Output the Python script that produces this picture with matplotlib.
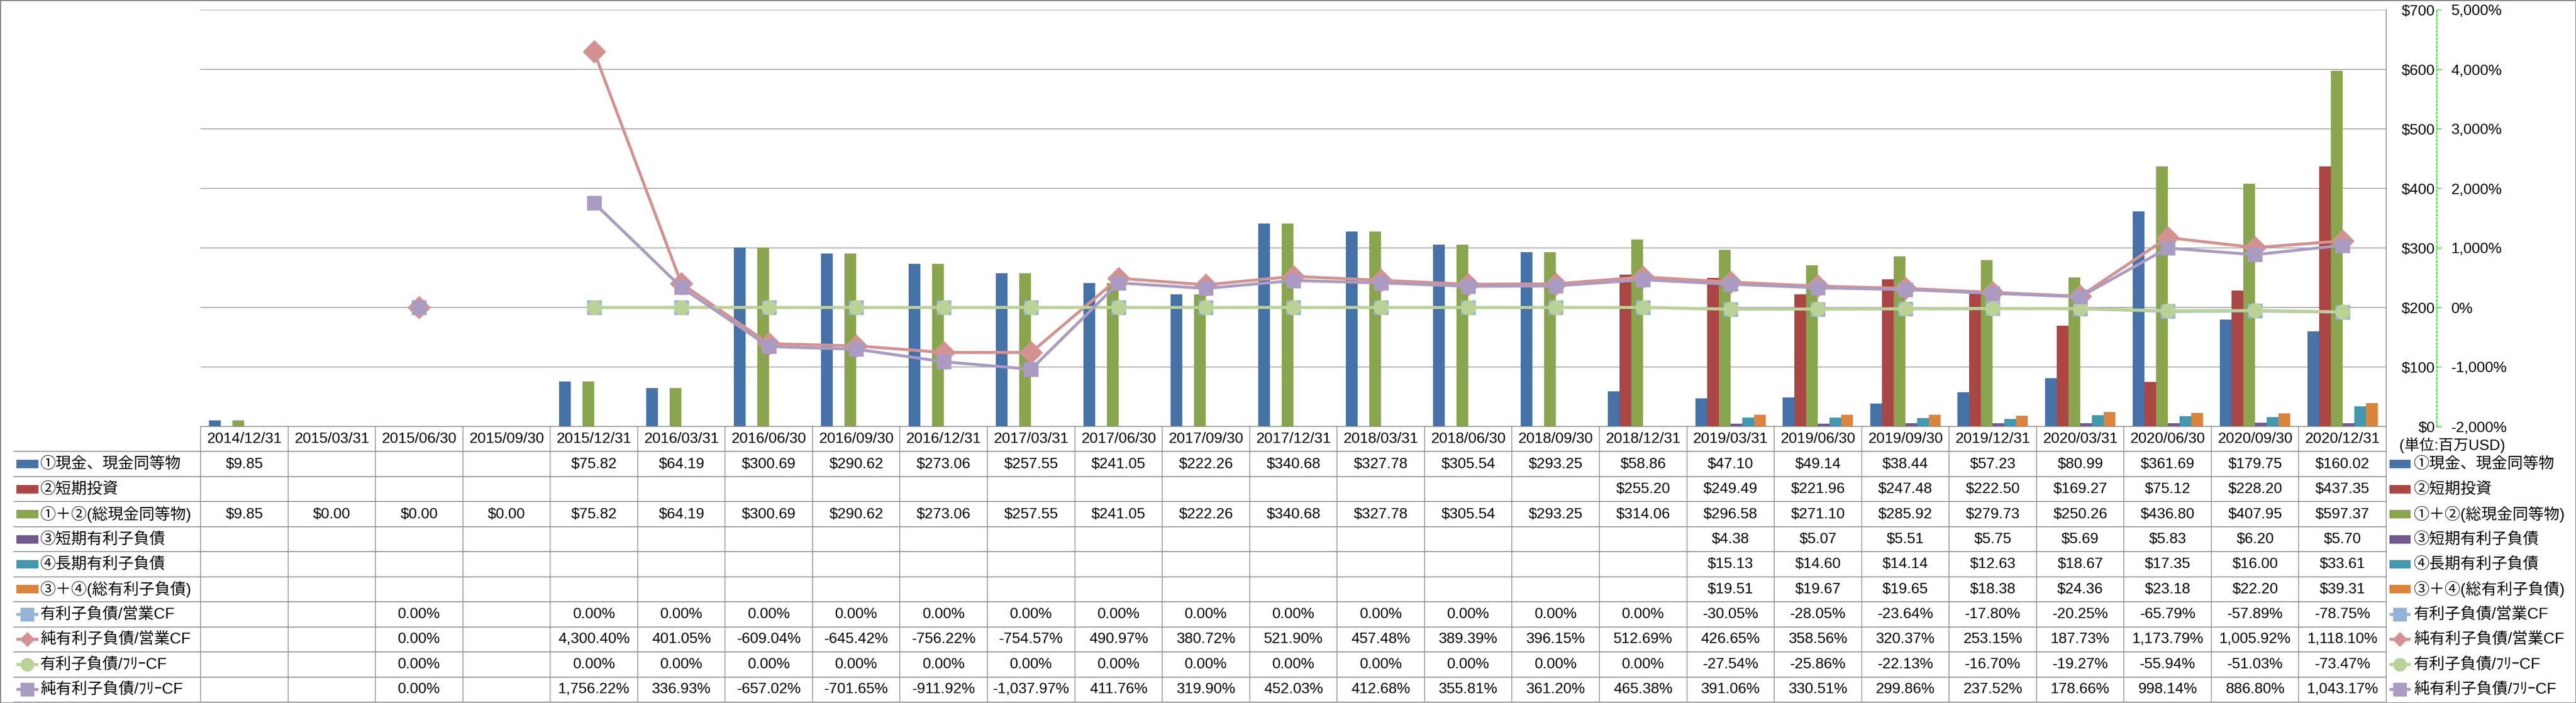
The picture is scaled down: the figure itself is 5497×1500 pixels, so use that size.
"""Cash vs interest-bearing debt: Excel-style combo chart with data table."""

import numpy as np
import matplotlib.pyplot as plt
from matplotlib.patches import Rectangle

nan = np.nan

DATES = ["2014/12/31", "2015/03/31", "2015/06/30", "2015/09/30", "2015/12/31",
         "2016/03/31", "2016/06/30", "2016/09/30", "2016/12/31", "2017/03/31",
         "2017/06/30", "2017/09/30", "2017/12/31", "2018/03/31", "2018/06/30",
         "2018/09/30", "2018/12/31", "2019/03/31", "2019/06/30", "2019/09/30",
         "2019/12/31", "2020/03/31", "2020/06/30", "2020/09/30", "2020/12/31"]

# bar series ($ millions)
CASH = [9.85, nan, nan, nan, 75.82, 64.19, 300.69, 290.62, 273.06, 257.55,
        241.05, 222.26, 340.68, 327.78, 305.54, 293.25, 58.86, 47.10, 49.14,
        38.44, 57.23, 80.99, 361.69, 179.75, 160.02]
SHORT_INV = [nan] * 16 + [255.20, 249.49, 221.96, 247.48, 222.50, 169.27,
                          75.12, 228.20, 437.35]
TOTAL_CASH = [9.85, 0.0, 0.0, 0.0, 75.82, 64.19, 300.69, 290.62, 273.06, 257.55,
              241.05, 222.26, 340.68, 327.78, 305.54, 293.25, 314.06, 296.58,
              271.10, 285.92, 279.73, 250.26, 436.80, 407.95, 597.37]
SHORT_DEBT = [nan] * 17 + [4.38, 5.07, 5.51, 5.75, 5.69, 5.83, 6.20, 5.70]
LONG_DEBT = [nan] * 17 + [15.13, 14.60, 14.14, 12.63, 18.67, 17.35, 16.00, 33.61]
TOTAL_DEBT = [nan] * 17 + [19.51, 19.67, 19.65, 18.38, 24.36, 23.18, 22.20, 39.31]

# line series (%)
DEBT_OCF = [nan, nan, 0, nan, 0, 0, 0, 0, 0, 0, 0, 0, 0, 0, 0, 0, 0,
            -30.05, -28.05, -23.64, -17.80, -20.25, -65.79, -57.89, -78.75]
NET_DEBT_OCF = [nan, nan, 0, nan, 4300.40, 401.05, -609.04, -645.42, -756.22,
                -754.57, 490.97, 380.72, 521.90, 457.48, 389.39, 396.15, 512.69,
                426.65, 358.56, 320.37, 253.15, 187.73, 1173.79, 1005.92, 1118.10]
DEBT_FCF = [nan, nan, 0, nan, 0, 0, 0, 0, 0, 0, 0, 0, 0, 0, 0, 0, 0,
            -27.54, -25.86, -22.13, -16.70, -19.27, -55.94, -51.03, -73.47]
NET_DEBT_FCF = [nan, nan, 0, nan, 1756.22, 336.93, -657.02, -701.65, -911.92,
                -1037.97, 411.76, 319.90, 452.03, 412.68, 355.81, 361.20, 465.38,
                391.06, 330.51, 299.86, 237.52, 178.66, 998.14, 886.80, 1043.17]

BAR_NAMES = ["①現金、現金同等物", "②短期投資", "①＋②(総現金同等物)",
             "③短期有利子負債", "④長期有利子負債", "③＋④(総有利子負債)"]
LINE_NAMES = ["有利子負債/営業CF", "純有利子負債/営業CF",
              "有利子負債/ﾌﾘｰCF", "純有利子負債/ﾌﾘｰCF"]

USD_TICKS = [0, 100, 200, 300, 400, 500, 600, 700]
PCT_TICKS = [-2000, -1000, 0, 1000, 2000, 3000, 4000, 5000]
UNIT_LABEL = "(単位:百万USD)"

BAR_COLORS = ["#4572A7", "#AA4643", "#89A54E", "#71588F", "#4198AF", "#DB843D"]
LINE_COLORS = ["#95B3D7", "#D39290", "#BBD296", "#AA9BC3"]
LINE_MARKERS = ["s", "D", "o", "s"]
LINE_MS = [22, 24, 22, 22]
KEY_MS = [20, 15, 20, 20]

FONT = ["Liberation Sans", "Noto Sans CJK JP", "DejaVu Sans"]
FS = 23
FS_NAME = 24
GRID = "#8C8C8C"

# layout in pixels of the 5497x1500 output
W, H = 5497, 1500
PLOT_L, PLOT_R, PLOT_T, PLOT_B = 428, 5092, 21, 910
TAB_L, TAB_B = 29, 1498
AXIS_X = 5200
N = len(DATES)
COL_W = (PLOT_R - PLOT_L) / N
ROW_H = (TAB_B - PLOT_B) / 11


def xt(px):
    return -0.5 + (px - PLOT_L) / COL_W


def yt(py):
    return (py - PLOT_B) / ROW_H


def fmt_usd(v):
    return "" if np.isnan(v) else f"${v:,.2f}"


def fmt_pct(v):
    return "" if np.isnan(v) else f"{v:,.2f}%"


def draw_key(ax, x0, x1, yc, kind, idx):
    """Legend key: coloured box for bars, line+marker for lines."""
    if kind == "bar":
        h = 18 / ROW_H
        ax.add_patch(Rectangle((x0, yc - h / 2), x1 - x0, h,
                               color=BAR_COLORS[idx], lw=0, clip_on=False))
    else:
        c = LINE_COLORS[idx]
        ax.plot([x0, x1], [yc, yc], color=c, lw=4.5, solid_capstyle="butt", clip_on=False)
        ax.plot([(x0 + x1) / 2], [yc], marker=LINE_MARKERS[idx], ms=KEY_MS[idx],
                color=c, mec=c, clip_on=False)


def plot():
    plt.rcParams["font.family"] = FONT
    fig = plt.figure(figsize=(W / 100, H / 100), dpi=100)
    x = np.arange(N)

    # main plot area (bars, $ axis)
    ax = fig.add_axes([PLOT_L / W, 1 - PLOT_B / H, (PLOT_R - PLOT_L) / W, (PLOT_B - PLOT_T) / H])
    bar_w = 25 / COL_W
    series = [CASH, SHORT_INV, TOTAL_CASH, SHORT_DEBT, LONG_DEBT, TOTAL_DEBT]
    for k, vals in enumerate(series):
        ax.bar(x - 3 * bar_w + (k + 0.5) * bar_w, vals, width=bar_w,
               color=BAR_COLORS[k], linewidth=0, zorder=2)
    ax.set_xlim(-0.5, N - 0.5)
    ax.set_ylim(0, 700)
    ax.set_xticks([])
    ax.set_yticks(USD_TICKS)
    ax.set_yticklabels([f"${v}" for v in USD_TICKS])
    ax.yaxis.grid(True, color=GRID, lw=1.1)
    ax.set_axisbelow(True)
    frac = (AXIS_X - PLOT_L) / (PLOT_R - PLOT_L)
    ax.spines["left"].set_position(("axes", frac))
    ax.spines["left"].set_visible(False)
    ax.spines["top"].set_visible(False)
    for s in ("right", "bottom"):
        ax.spines[s].set_color(GRID)
        ax.spines[s].set_linewidth(1.3)
    ax.tick_params(axis="y", length=0, pad=3, labelsize=FS)

    # secondary % axis for ratio lines
    ax2 = ax.twinx()
    lines = [DEBT_OCF, NET_DEBT_OCF, DEBT_FCF, NET_DEBT_FCF]
    for k, vals in enumerate(lines):
        c = LINE_COLORS[k]
        ax2.plot(x, vals, color=c, lw=4.5, marker=LINE_MARKERS[k], ms=LINE_MS[k],
                 mfc=c, mec=c, zorder=3 + k)
    ax2.set_ylim(-2000, 5000)
    ax2.set_yticks(PCT_TICKS)
    ax2.set_yticklabels([f"{v:,}%" for v in PCT_TICKS])
    for lab, v in zip(ax2.get_yticklabels(), PCT_TICKS):
        if v < 0:
            lab.set_color("#FF0000")
    for s in ("left", "top", "bottom"):
        ax2.spines[s].set_visible(False)
    ax2.spines["right"].set_position(("axes", frac))
    ax2.spines["right"].set_color("#22DD22")
    ax2.spines["right"].set_linestyle((0, (2, 2)))
    ax2.spines["right"].set_linewidth(1.5)
    ax2.tick_params(axis="y", direction="out", length=7, width=1.2, color="#22DD22",
                    pad=15, labelsize=FS)

    # data table below the plot
    tax = fig.add_axes([TAB_L / W, 1 - TAB_B / H, (W - TAB_L) / W, (TAB_B - PLOT_B) / H])
    tax.set_xlim(xt(TAB_L), xt(W))
    tax.set_ylim(11, 0)
    tax.axis("off")
    for r in range(1, 12):
        tax.plot([xt(TAB_L), N - 0.5], [r, r], color=GRID, lw=1.4)
    for k in range(N + 1):
        tax.plot([k - 0.5, k - 0.5], [0, 11], color=GRID, lw=1.2)

    for i, d in enumerate(DATES):
        tax.text(i, 0.5, d, ha="center", va="center", fontsize=FS)

    rows = [(BAR_NAMES[k], "bar", k, [fmt_usd(v) for v in series[k]]) for k in range(6)]
    rows += [(LINE_NAMES[k], "line", k, [fmt_pct(v) for v in lines[k]]) for k in range(4)]
    for r, (name, kind, idx, cells) in enumerate(rows, start=1):
        yc = r + 0.5
        for i, s in enumerate(cells):
            tax.text(i, yc, s, ha="center", va="center", fontsize=FS)
        # row header
        draw_key(tax, xt(35), xt(82), yc, kind, idx)
        tax.text(xt(86), yc, name, ha="left", va="center", fontsize=FS_NAME)
        # right-hand legend
        draw_key(tax, xt(5099), xt(5144), yc, kind, idx)
        tax.text(xt(5151), yc, name, ha="left", va="center", fontsize=FS_NAME, clip_on=False)

    tax.text(xt(5120), yt(950), UNIT_LABEL, ha="left", va="center", fontsize=FS)

    fig.patches.append(Rectangle((0, 0), 1, 1, transform=fig.transFigure, fill=False,
                                 ec="#808080", lw=2.5))
    fig.savefig("out.png", dpi=100)
    plt.close(fig)


if __name__ == "__main__":
    plot()
